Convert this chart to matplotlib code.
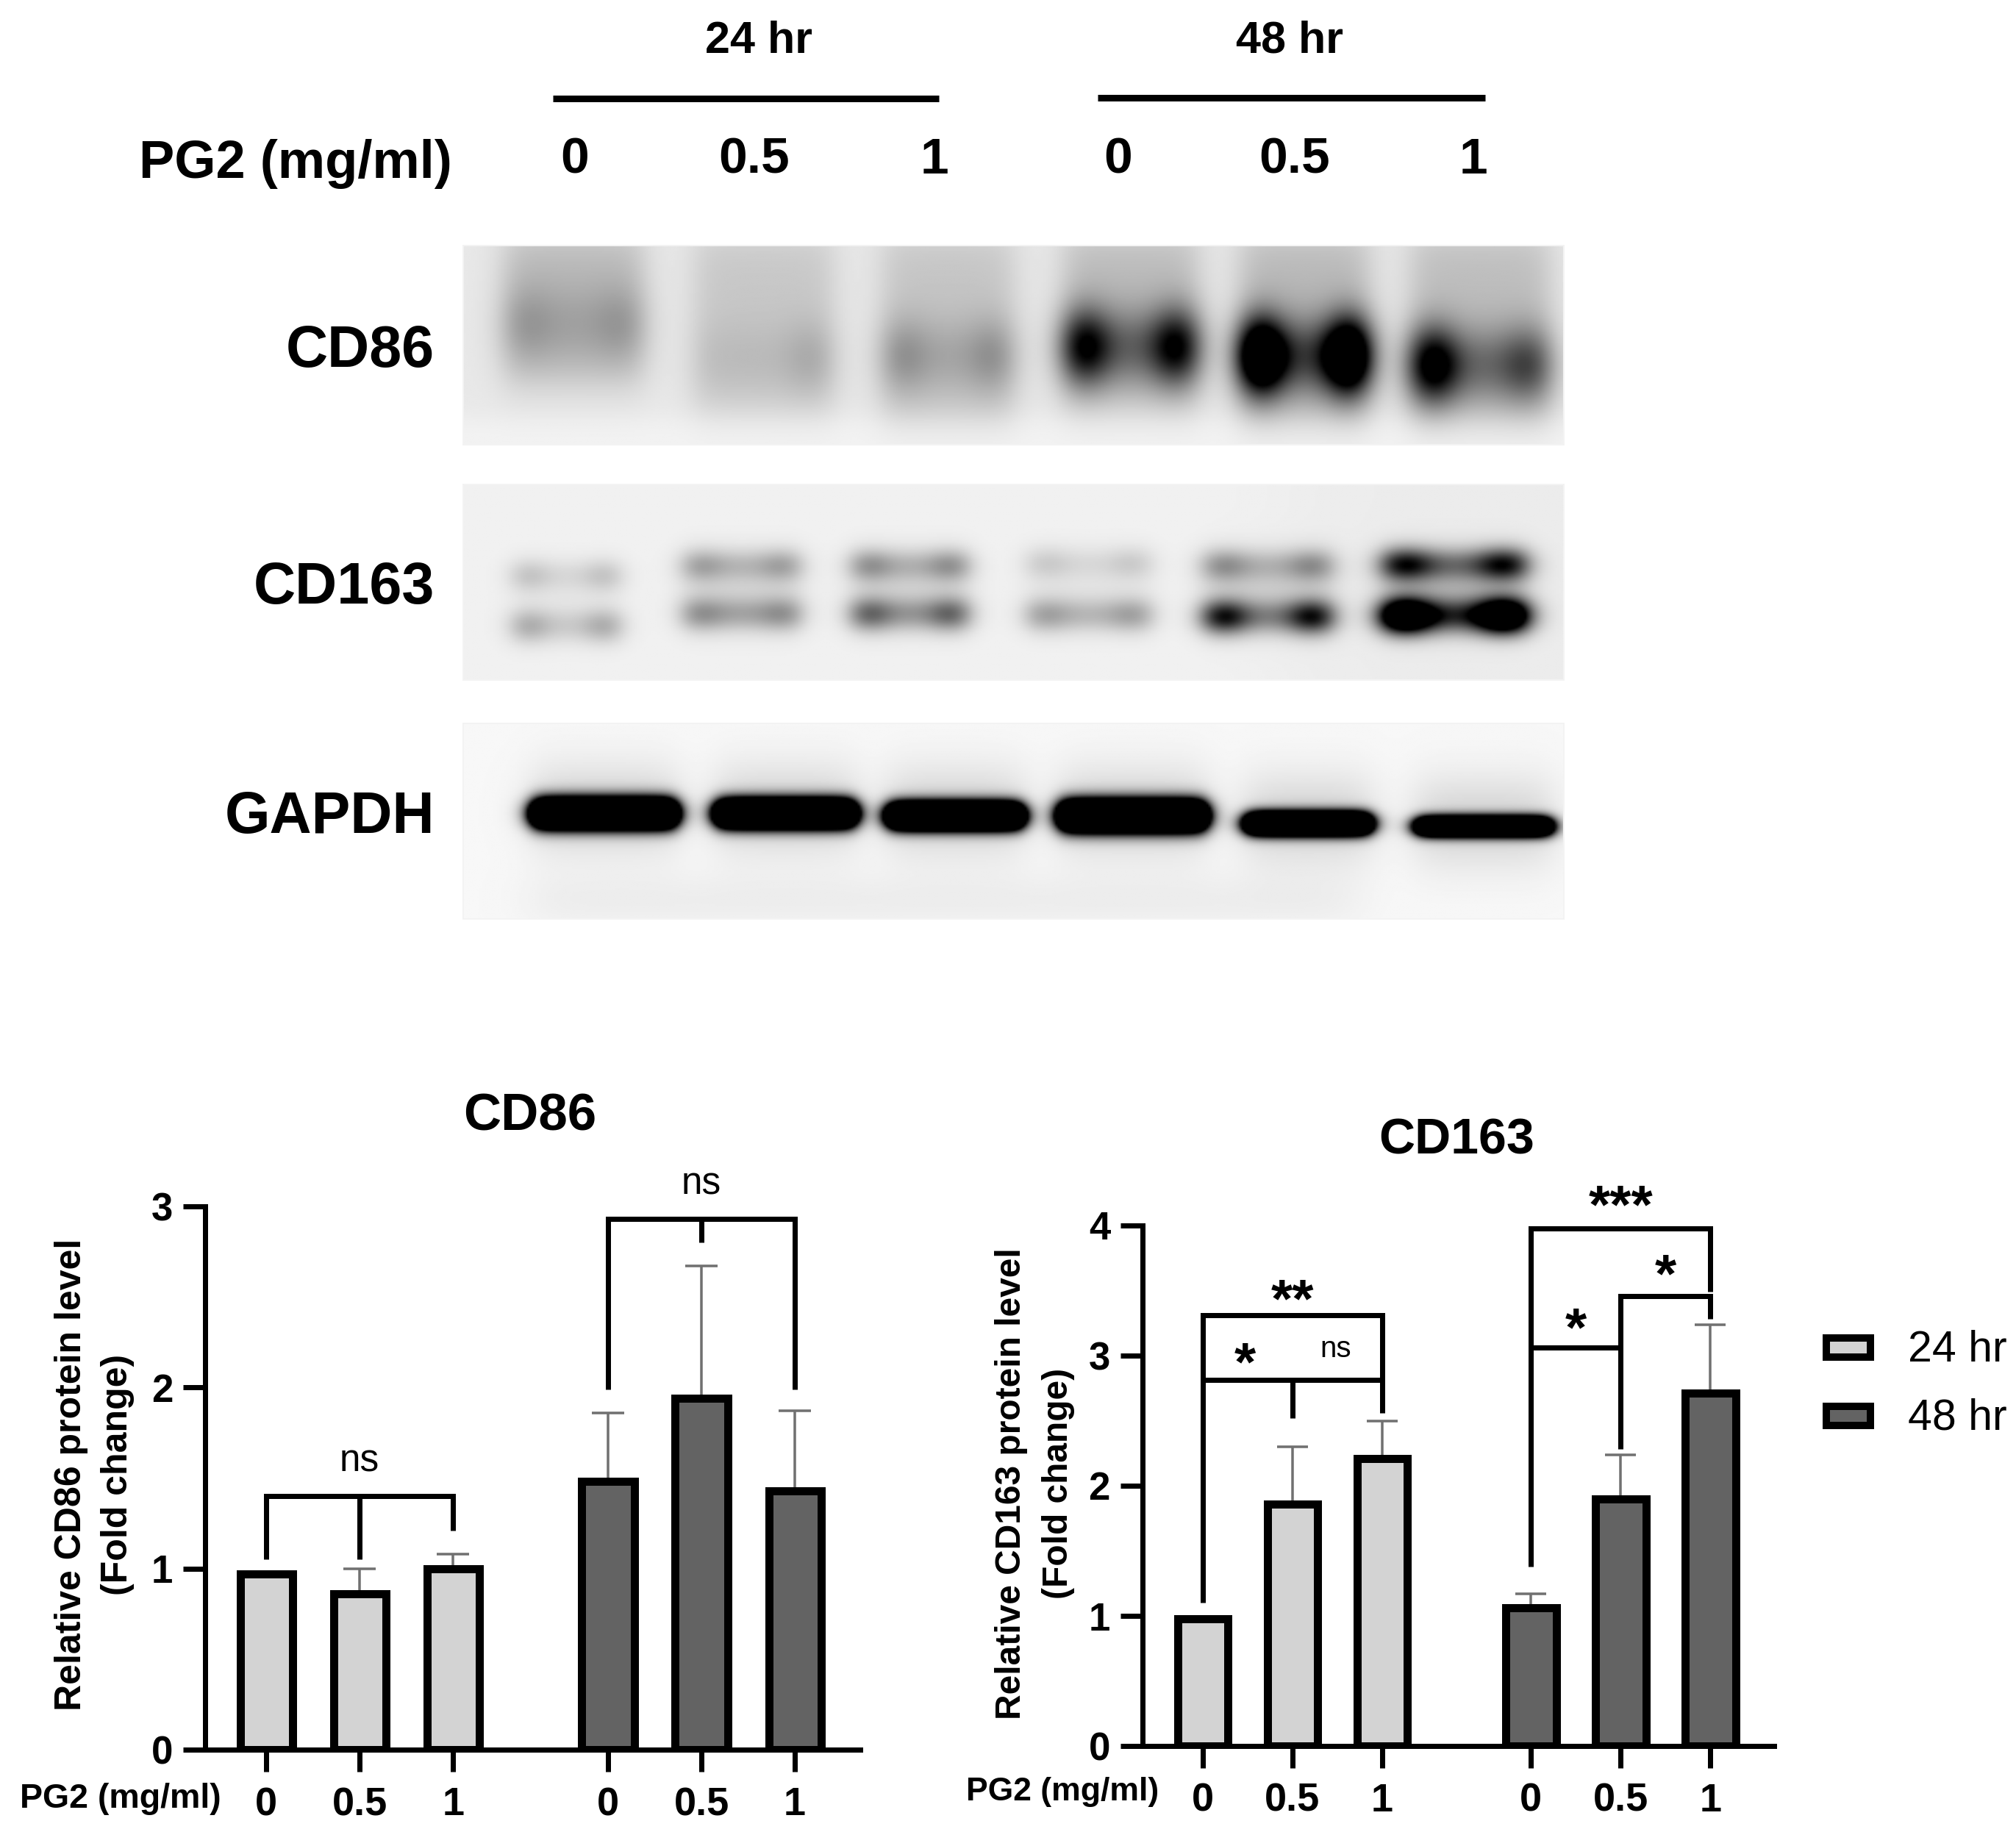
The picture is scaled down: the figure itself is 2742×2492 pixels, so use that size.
"""Western blot panels and densitometry bars for CD86 / CD163."""

import matplotlib

matplotlib.use("Agg")
import matplotlib.pyplot as plt
import numpy as np
from matplotlib.patches import Rectangle

plt.rcParams["font.family"] = ["Liberation Sans", "DejaVu Sans"]

W, H = 2742, 2492
DPI = 100
PX = 72 / DPI  # one pixel in points

LIGHT = "#d3d3d3"
DARK = "#636363"
ERR = "#707070"

DOSES = ["0", "0.5", "1", "0", "0.5", "1"]
BAR_COLORS = [LIGHT, LIGHT, LIGHT, DARK, DARK, DARK]
POS = [0, 1, 2, 3.66, 4.66, 5.66]

# densitometry
CD86_MEAN = [0.97, 0.86, 1.00, 1.48, 1.94, 1.43]
CD86_ERR_TOP = [0.97, 1.00, 1.08, 1.86, 2.67, 1.87]
CD163_MEAN = [0.98, 1.86, 2.21, 1.06, 1.90, 2.71]
CD163_ERR_TOP = [0.98, 2.30, 2.50, 1.17, 2.24, 3.24]

# blot lanes, everything in the same units as the panel grid below
CD86_LANES = [180, 440, 692, 942, 1180, 1420]
CD86_HALF = [95, 95, 90, 92, 88, 95]
CD86_SMEAR = [0.19, 0.13, 0.14, 0.18, 0.19, 0.17]
CD86_SMEAR_END = [350, 410, 430, 400, 430, 430]
CD86_BAND_Y = [225, 300, 295, 275, 295, 315]
CD86_LEFT = [0.06, 0.00, 0.10, 0.48, 0.95, 0.62]
CD86_RIGHT = [0.06, 0.07, 0.10, 0.48, 0.95, 0.20]
CD86_MID = [0.09, 0.05, 0.12, 0.34, 0.46, 0.32]

CD163_LANES = [170, 410, 640, 885, 1130, 1385]
CD163_HALF = [75, 80, 80, 85, 88, 98]
CD163_UP_Y = [772, 750, 750, 745, 750, 748]
CD163_UP_EDGE = [0.08, 0.10, 0.14, 0.06, 0.16, 0.45]
CD163_UP_MID = [0.08, 0.18, 0.20, 0.07, 0.18, 0.40]
CD163_LOW_Y = [882, 856, 856, 858, 862, 860]
CD163_LOW_EDGE = [0.12, 0.10, 0.22, 0.10, 0.50, 1.10]
CD163_LOW_MID = [0.13, 0.25, 0.30, 0.20, 0.36, 0.65]
CD163_HAZE = [0.03, 0.08, 0.08, 0.04, 0.10, 0.16]

GAPDH_LANES = [222, 470, 702, 945, 1185, 1425]
GAPDH_HALF = [98, 95, 92, 100, 85, 92]
GAPDH_Y = [1290, 1290, 1295, 1295, 1312, 1318]
GAPDH_SY = [22, 21, 20, 23, 17, 15]
GAPDH_AMP = [3.6, 3.6, 3.6, 3.6, 3.4, 3.0]


def px_axes(fig, x0, x1, y_bottom, y_top):
    return fig.add_axes([x0 / W, 1 - y_bottom / H, (x1 - x0) / W, (y_bottom - y_top) / H])


def soft_box(v, a, b, edge):
    return 0.5 * (np.tanh((v - a) / edge) - np.tanh((v - b) / edge))


def gauss(v, c, s):
    return np.exp(-0.5 * ((v - c) / s) ** 2)


def band(X, Y, cx, half, cy, sy, left, right, mid, edge=14):
    across = mid * soft_box(X, cx - half, cx + half, edge)
    across = across + left * gauss(X, cx - half * 0.68, half * 0.26)
    across = across + right * gauss(X, cx + half * 0.68, half * 0.26)
    return across * gauss(Y, cy, sy)


def blot_grid(y0, y1):
    xs = np.arange(30, 1536, 3.0)
    ys = np.arange(y0, y1, 3.0)
    return np.meshgrid(xs, ys)


def cd86_blot():
    X, Y = blot_grid(55, 488)
    d = 0.09 - 0.04 * soft_box(Y, 430, 560, 30)
    for i, c in enumerate(CD86_LANES):
        smear = soft_box(X, c - CD86_HALF[i], c + CD86_HALF[i], 24)
        smear = smear * soft_box(Y, 30, CD86_SMEAR_END[i], 55)
        d = d + CD86_SMEAR[i] * smear
        d = d + band(X, Y, c, CD86_HALF[i], CD86_BAND_Y[i], 58,
                     CD86_LEFT[i], CD86_RIGHT[i], CD86_MID[i], edge=24)
    return d


def cd163_blot():
    X, Y = blot_grid(575, 1000)
    d = 0.055 + 0.02 * soft_box(X, 1150, 1700, 80)
    for i, c in enumerate(CD163_LANES):
        d = d + band(X, Y, c, CD163_HALF[i], CD163_UP_Y[i], 25,
                     CD163_UP_EDGE[i], CD163_UP_EDGE[i], CD163_UP_MID[i], edge=18)
        d = d + band(X, Y, c, CD163_HALF[i], CD163_LOW_Y[i], 26,
                     CD163_LOW_EDGE[i], CD163_LOW_EDGE[i], CD163_LOW_MID[i], edge=18)
        d = d + band(X, Y, c, CD163_HALF[i], (CD163_UP_Y[i] + CD163_LOW_Y[i]) / 2, 55,
                     0, 0, CD163_HAZE[i], edge=24)
    return d


def gapdh_blot():
    X, Y = blot_grid(1095, 1520)
    d = 0.03 + 0.04 * gauss(Y, 1480, 45) * soft_box(X, 120, 1250, 40)
    for i, c in enumerate(GAPDH_LANES):
        d = d + band(X, Y, c, GAPDH_HALF[i], GAPDH_Y[i], GAPDH_SY[i], 0, 0, GAPDH_AMP[i])
        d = d + band(X, Y, c, GAPDH_HALF[i], GAPDH_Y[i] - 10, 70, 0, 0, 0.14, edge=30)
    return d


def draw_blot(ax, darkness, y_top, y_bottom):
    ax.imshow(1 - np.clip(darkness, 0, 1), cmap="gray", vmin=0, vmax=1, aspect="auto",
              extent=(630, 2127, y_bottom, y_top), interpolation="bilinear", zorder=1)
    ax.add_patch(Rectangle((630, y_top), 1497, y_bottom - y_top, fill=False,
                           ec="#f3f3f3", lw=2 * PX, zorder=2))


def bar_panel(ax, mean, err_top, xlim, ylim, yticks, cap_px):
    ax.set_xlim(*xlim)
    ax.set_ylim(*ylim)
    upper = [t - m for t, m in zip(err_top, mean)]
    ax.errorbar(POS, mean, yerr=[[0] * 6, upper], fmt="none", ecolor=ERR,
                elinewidth=3.5 * PX, capsize=cap_px * PX, capthick=3.5 * PX, zorder=2)
    ax.bar(POS, mean, width=0.56, color=BAR_COLORS, edgecolor="black",
           linewidth=11 * PX, zorder=3)
    ax.patch.set_alpha(0)
    for side in ("top", "right"):
        ax.spines[side].set_visible(False)
    for side in ("left", "bottom"):
        ax.spines[side].set_linewidth(7 * PX)
    ax.set_xticks(POS, DOSES, fontweight="bold", fontsize=39)
    ax.set_yticks(yticks, [str(t) for t in yticks], fontweight="bold", fontsize=38)
    ax.tick_params(axis="x", length=30 * PX, width=7 * PX, pad=20 * PX)
    ax.tick_params(axis="y", length=30 * PX, width=7 * PX, pad=14 * PX)


def brackets(ax, lines):
    for xs, ys in lines:
        ax.plot(xs, ys, color="black", lw=7 * PX, solid_joinstyle="miter",
                solid_capstyle="butt", zorder=4, clip_on=False)


fig = plt.figure(figsize=(W / DPI, H / DPI), dpi=DPI)
page = fig.add_axes([0, 0, 1, 1])
page.set_xlim(0, W)
page.set_ylim(H, 0)
page.axis("off")

draw_blot(page, cd86_blot(), 334, 605)
draw_blot(page, cd163_blot(), 659, 925)
draw_blot(page, gapdh_blot(), 984, 1250)
page.set_xlim(0, W)
page.set_ylim(H, 0)

# header above the blots
for label, x, y in [("24 hr", 1032, 57), ("48 hr", 1754, 56)]:
    page.text(x, y, label, fontsize=44, fontweight="bold", ha="center", va="center")
page.plot([752, 1277], [134, 134], color="black", lw=9 * PX, solid_capstyle="butt")
page.plot([1493, 2020], [133, 133], color="black", lw=9 * PX, solid_capstyle="butt")
page.text(615, 223, "PG2 (mg/ml)", fontsize=52, fontweight="bold", ha="right", va="center")
for label, x in zip(DOSES, [782, 1026, 1271, 1521, 1761, 2004]):
    page.text(x, 218, label, fontsize=50, fontweight="bold", ha="center", va="center")
for label, y in [("CD86", 478), ("CD163", 800), ("GAPDH", 1112)]:
    page.text(591, y, label, fontsize=57, fontweight="bold", ha="right", va="center")

# CD86 chart
ax1 = px_axes(fig, 279, 1170, 2380, 1641)
bar_panel(ax1, CD86_MEAN, CD86_ERR_TOP, (-0.654, 6.36), (0, 3), [0, 1, 2, 3], 22)
brackets(ax1, [
    ([POS[0], POS[0], POS[2], POS[2]], [1.05, 1.40, 1.40, 1.21]),
    ([POS[1], POS[1]], [1.40, 1.05]),
    ([POS[3], POS[3], POS[5], POS[5]], [1.99, 2.93, 2.93, 1.99]),
    ([POS[4], POS[4]], [2.93, 2.80]),
])
ax1.text(POS[1], 1.59, "ns", fontsize=37, ha="center", va="center")
ax1.text(POS[4], 3.12, "ns", fontsize=37, ha="center", va="center", clip_on=False)
page.text(721, 1520, "CD86", fontsize=51, fontweight="bold", ha="center", va="center")
page.text(97, 2006, "Relative CD86 protein level", fontsize=36, fontweight="bold",
          rotation=90, ha="center", va="center")
page.text(160, 2006, "(Fold change)", fontsize=36, fontweight="bold",
          rotation=90, ha="center", va="center")
page.text(27, 2447, "PG2 (mg/ml)", fontsize=33.5, fontweight="bold", ha="left", va="center")

# CD163 chart
ax2 = px_axes(fig, 1554, 2413, 2375, 1667)
bar_panel(ax2, CD163_MEAN, CD163_ERR_TOP, (-0.672, 6.37), (0, 4), [0, 1, 2, 3, 4], 21)
brackets(ax2, [
    ([POS[0], POS[0], POS[2], POS[2]], [1.10, 3.31, 3.31, 2.56]),
    ([POS[0], POS[2]], [2.815, 2.815]),
    ([POS[1], POS[1]], [2.815, 2.52]),
    ([POS[3], POS[3], POS[5], POS[5]], [1.38, 3.98, 3.98, 3.49]),
    ([POS[3], POS[4]], [3.06, 3.06]),
    ([POS[4], POS[4], POS[5], POS[5]], [2.28, 3.46, 3.46, 3.28]),
])
ax2.text(POS[1], 3.41, "**", fontsize=54, fontweight="bold", ha="center", va="center")
ax2.text(POS[0] + 0.47, 2.92, "*", fontsize=54, fontweight="bold", ha="center", va="center")
ax2.text(POS[2] - 0.52, 3.05, "ns", fontsize=29, ha="center", va="center")
ax2.text(POS[4], 4.13, "***", fontsize=54, fontweight="bold", ha="center", va="center", clip_on=False)
ax2.text(POS[4] + 0.5, 3.60, "*", fontsize=54, fontweight="bold", ha="center", va="center")
ax2.text(POS[3] + 0.5, 3.19, "*", fontsize=54, fontweight="bold", ha="center", va="center")
page.text(1981, 1552, "CD163", fontsize=49, fontweight="bold", ha="center", va="center")
page.text(1376, 2018, "Relative CD163 protein level", fontsize=34.5, fontweight="bold",
          rotation=90, ha="center", va="center")
page.text(1440, 2018, "(Fold change)", fontsize=34.5, fontweight="bold",
          rotation=90, ha="center", va="center")
page.text(1314, 2438, "PG2 (mg/ml)", fontsize=32, fontweight="bold", ha="left", va="center")

# legend
for label, color, y in [("24 hr", LIGHT, 1833), ("48 hr", DARK, 1926)]:
    page.add_patch(Rectangle((2484, y - 13), 60, 26, fc=color, ec="black", lw=10 * PX))
    page.text(2595, y + 3, label, fontsize=42.5, ha="left", va="center")

fig.savefig("out.png", dpi=DPI)
plt.close(fig)
